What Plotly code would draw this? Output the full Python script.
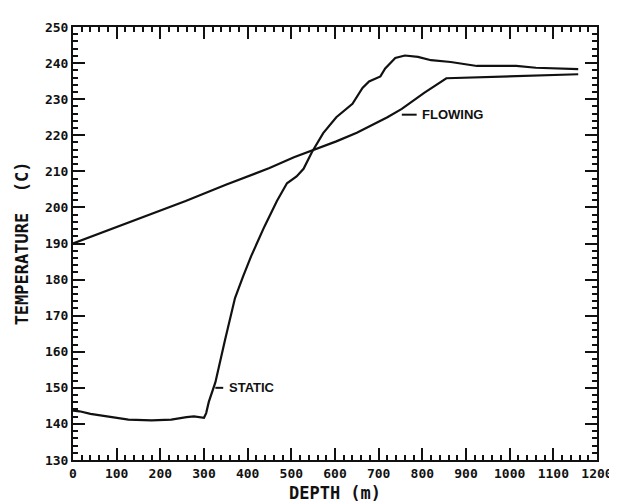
import plotly.graph_objects as go

# ---- data ----
static_depth = [0, 15, 40, 80, 127, 180, 225, 260, 277, 300, 305, 311, 320, 326, 348, 371, 390, 408,
                438, 467, 490, 512, 528, 547, 573, 603, 640, 663, 678, 704, 715, 738, 760, 790,
                820, 865, 925, 1015, 1060, 1090, 1157]
static_temp = [143.7, 143.5, 142.8, 142.0, 141.2, 141.0, 141.2, 141.9, 142.1, 141.7, 143.0, 146.1,
               149.5, 151.5, 163.2, 174.9, 181.0, 186.5, 194.6, 201.8, 206.7, 208.6, 210.7, 215.3,
               220.6, 225.0, 228.7, 233.1, 234.9, 236.3, 238.5, 241.4, 242.1, 241.7, 240.8, 240.3,
               239.2, 239.2, 238.7, 238.6, 238.3]

flow_depth = [0, 100, 200, 258, 350, 450, 506, 550, 603, 650, 678, 720, 753, 805, 855, 940, 1015,
              1090, 1157]
flow_temp = [190.0, 194.6, 199.2, 201.8, 206.3, 210.9, 213.9, 215.9, 218.3, 220.7, 222.4, 225.0,
             227.3, 231.8, 235.8, 236.1, 236.3, 236.7, 236.9]

x_ticks = list(range(0, 1201, 100))
y_ticks = list(range(130, 251, 10))

# label positions (data units): leader dash start/end, text x, level
static_label = dict(x0=326, x1=344, xt=352, y=150.0, text="STATIC")
flow_label = dict(x0=753, x1=787, xt=795, y=225.7, text="FLOWING")

INK = "#111111"
TICKFONT = dict(family="DejaVu Sans Mono", size=13, color=INK, weight="bold")
TITLEFONT = dict(family="DejaVu Sans Mono", size=17, color=INK, weight="bold")
LABELFONT = dict(family="Liberation Sans", size=13, color=INK, weight="bold")

fig = go.Figure()
fig.add_trace(go.Scatter(x=static_depth, y=static_temp, mode="lines",
                         line=dict(color=INK, width=2.2), showlegend=False))
fig.add_trace(go.Scatter(x=flow_depth, y=flow_temp, mode="lines",
                         line=dict(color=INK, width=2.2), showlegend=False))

for lab in (static_label, flow_label):
    fig.add_shape(type="line", x0=lab["x0"], x1=lab["x1"], y0=lab["y"], y1=lab["y"],
                  xref="x", yref="y", line=dict(color=INK, width=2))
    fig.add_annotation(x=lab["xt"], y=lab["y"], text=lab["text"], showarrow=False,
                       xanchor="left", yanchor="middle", font=LABELFONT)

axis_common = dict(showgrid=False, zeroline=False, showline=True, linecolor=INK, linewidth=2,
                   mirror="allticks", ticks="inside", ticklen=12, tickwidth=1.5, tickcolor=INK,
                   tickfont=TICKFONT)

fig.update_xaxes(range=[0, 1200], tickvals=x_ticks, ticktext=[str(v) for v in x_ticks],
                 minor=dict(dtick=20, ticks="inside", ticklen=5, tickwidth=1.5, tickcolor=INK),
                 title=dict(text="DEPTH (m)", font=TITLEFONT, standoff=8), **axis_common)
fig.update_yaxes(range=[130, 250], tickvals=y_ticks, ticktext=[str(v) for v in y_ticks],
                 minor=dict(dtick=2, ticks="inside", ticklen=5, tickwidth=1.5, tickcolor=INK),
                 title=dict(text="TEMPERATURE  (C)", font=TITLEFONT, standoff=12), **axis_common)

fig.update_layout(width=617, height=504, margin=dict(l=65, r=18, t=14, b=44),
                  paper_bgcolor="white", plot_bgcolor="white")

fig.write_html("out.html")
